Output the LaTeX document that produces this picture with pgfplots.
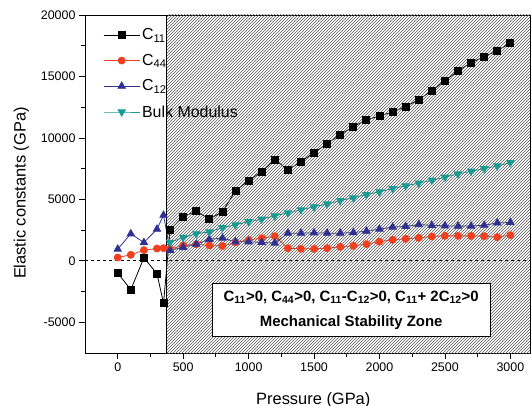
\documentclass[border=0pt]{standalone}
\usepackage{fontspec}
\setmainfont{Liberation Sans}
\usepackage{pgfplots}
\pgfplotsset{compat=1.18}
\usetikzlibrary{patterns}
\pgfdeclarepatternformonly{densehatch}{\pgfqpoint{-1bp}{-1bp}}{\pgfqpoint{4bp}{4bp}}{\pgfqpoint{3bp}{3bp}}{\pgfsetlinewidth{0.4bp}\pgfpathmoveto{\pgfqpoint{0bp}{0bp}}\pgfpathlineto{\pgfqpoint{3.1bp}{3.1bp}}\pgfusepath{stroke}}
\definecolor{c44}{RGB}{240,64,32}
\definecolor{c12}{RGB}{46,49,146}
\definecolor{cB}{RGB}{25,155,150}

\pgfplotstableread{
p c11 c44 c12
0 -1000 270 950
100 -2350 490 2200
200 250 870 1490
300 -1050 1000 2575
350 -3450 1030 3710
400 2520 950 850
500 3600 1250 1100
600 4030 1350 1350
700 3400 1250 1750
800 3990 1200 1850
900 5700 1500 1550
1000 6530 1700 1550
1100 7260 1850 1500
1200 8240 2000 1440
1300 7400 1030 2250
1400 8070 975 2250
1500 8800 975 2280
1600 9540 1030 2250
1700 10270 1140 2250
1800 10920 1220 2300
1900 11460 1360 2410
2000 11790 1550 2580
2100 12110 1710 2740
2200 12550 1790 2800
2300 13110 1870 2950
2400 13850 1980 2880
2500 14660 2030 2850
2600 15450 2030 2820
2700 16120 2030 2830
2800 16610 2000 2900
2900 17100 1930 3080
3000 17720 2090 3120
}\elastic

\pgfplotstableread{
p B
400 1500
500 1900
600 2200
700 2350
800 2700
900 2930
1000 3180
1100 3390
1200 3660
1300 3900
1400 4150
1500 4390
1600 4630
1700 4900
1800 5120
1900 5390
2000 5610
2100 5880
2200 6100
2300 6320
2400 6560
2500 6800
2600 7070
2700 7290
2800 7500
2900 7720
3000 7990
}\bulk

\begin{document}
\begin{tikzpicture}
\begin{axis}[
  width=445bp, height=338bp, scale only axis,
  xmin=-250, xmax=3150, ymin=-7500, ymax=20000,
  xtick={0,500,...,3000}, ytick={-5000,0,...,20000},
  minor x tick num=1, minor y tick num=1,
  tick align=outside, xtick pos=bottom, ytick pos=left,
  major tick length=6bp, minor tick length=3.5bp,
  scaled ticks=false,
  /pgf/number format/1000 sep={},
  /pgf/number format/assume math mode=true,
  ticklabel style={font=\fontsize{12.5}{15}\selectfont},
  label style={font=\fontsize{16.5}{19}\selectfont},
  xlabel={Pressure (GPa)}, ylabel={Elastic constants (GPa)},
  xlabel style={at={(ticklabel cs:0.513)}, yshift=-14bp},
  ylabel style={at={(ticklabel cs:0.473)}, yshift=5bp},
  axis line style={line width=0.8pt},
  tick style={black, line width=0.8pt},
  legend style={at={(0.034,0.972)}, anchor=north west, draw=none, fill=none,
    font=\fontsize{16}{19}\selectfont, row sep=9bp},
  legend cell align=left,
  legend image code/.code={\draw[mark repeat=2,mark phase=2,#1] plot coordinates {(0bp,0bp) (18bp,0bp) (36bp,0bp)};},
]
\addplot[black, line width=0.8pt, mark=square*, mark size=3.5bp, mark options={fill=black}] table[x=p,y=c11] {\elastic};
\addlegendentry{C\textsubscript{11}}
\addplot[c44, line width=0.8pt, mark=*, mark size=3.5bp, mark options={fill=c44}] table[x=p,y=c44] {\elastic};
\addlegendentry{C\textsubscript{44}}
\addplot[c12, line width=0.8pt, mark=triangle*, mark size=4.2bp, mark options={fill=c12}] table[x=p,y=c12] {\elastic};
\addlegendentry{C\textsubscript{12}}
\addplot[cB, line width=0.8pt, mark=triangle*, mark size=4.2bp, mark options={fill=cB, rotate=180}] table[x=p,y=B] {\bulk};
\addlegendentry{Bulk Modulus}

\fill[pattern=densehatch, pattern color=black!65] (axis cs:375,-7500) rectangle (axis cs:3150,20000);
\draw[line width=0.8pt] (axis cs:375,-7500) -- (axis cs:375,20000);
\draw[line width=0.8pt, dash pattern=on 3bp off 3bp] (axis cs:-250,0) -- (axis cs:3150,0);
\node[draw=black, line width=1pt, fill=white, minimum width=278bp, minimum height=53bp,
  align=center, inner sep=0pt, font=\bfseries\fontsize{15}{25}\selectfont]
  at (axis cs:1784,-4025)
  {C\textsubscript{11}>0, C\textsubscript{44}>0, C\textsubscript{11}-C\textsubscript{12}>0, C\textsubscript{11}+ 2C\textsubscript{12}>0\\Mechanical Stability Zone};
\end{axis}
\pgfresetboundingbox
\path[use as bounding box] ([xshift=-85bp,yshift=-53bp]current axis.south west) rectangle ([xshift=1bp,yshift=15bp]current axis.north east);
\end{tikzpicture}
\end{document}
